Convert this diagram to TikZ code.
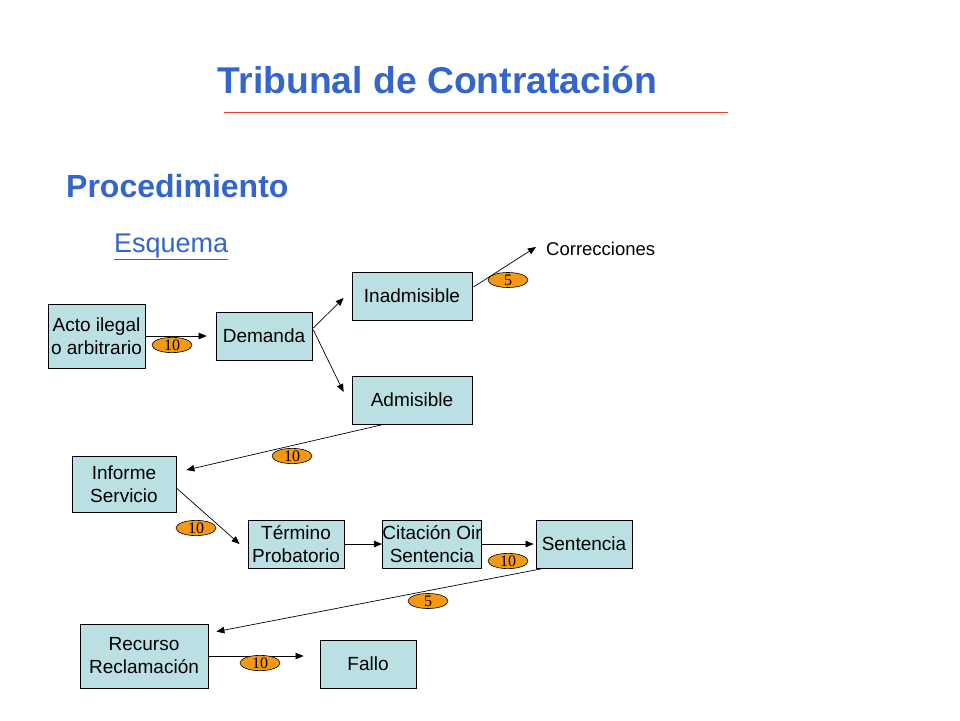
\documentclass[tikz,border=0pt]{standalone}
\usepackage{fontspec}
\setmainfont{Liberation Sans}
\newfontfamily\numfont{Liberation Serif}
\usetikzlibrary{arrows.meta,calc,shapes.geometric}
\definecolor{boxfill}{RGB}{187,224,227}
\definecolor{titleblue}{RGB}{51,102,204}
\definecolor{redline}{RGB}{232,67,43}
\definecolor{orangefill}{RGB}{245,153,20}
\tikzset{
  stepbox/.style={draw=black, line width=0.8pt, fill=boxfill, inner sep=0pt,
    align=center, font=\fontsize{19}{23}\selectfont},
  arr/.style={draw=black, line width=0.7pt, -{Triangle[length=8pt,width=6.5pt]}},
  tag/.style={ellipse, draw=black, line width=0.6pt, fill=orangefill, inner sep=0pt,
    minimum width=40pt, minimum height=15pt, font=\numfont\fontsize{16}{16}\selectfont},
}
\begin{document}
\begin{tikzpicture}[x=1pt,y=-1pt]
\useasboundingbox[fill=white] (0,0) rectangle (960,720);

% titles
\node[font=\bfseries\fontsize{37.3}{40}\selectfont, text=titleblue] (title) at (437.5,80) {Tribunal de Contratación};
\coordinate (rl1) at (224,112);
\coordinate (rl2) at (728,112);
\draw[redline, line width=0.9pt] (rl1) -- (rl2);
\node[font=\bfseries\fontsize{32}{36}\selectfont, text=titleblue, anchor=west, inner sep=0pt] (proc) at (66,186) {Procedimiento};
\node[font=\fontsize{27}{30}\selectfont, text=titleblue, anchor=west, inner sep=0pt] (esq) at (114,247) {\underline{Esquema}};

% boxes
\node[stepbox, minimum width=97pt, minimum height=64pt] (acto) at (96.5,336) {Acto ilegal\\o arbitrario};
\node[stepbox, minimum width=96pt, minimum height=48pt] (dem) at (264,336) {Demanda};
\node[stepbox, minimum width=120pt, minimum height=48pt] (inad) at (412,296) {Inadmisible};
\node[stepbox, minimum width=120pt, minimum height=48pt] (adm) at (412,400) {Admisible};
\node[font=\fontsize{18.5}{20}\selectfont, anchor=west, inner sep=0pt] (corr) at (546,249) {Correcciones};
\node[stepbox, minimum width=104pt, minimum height=56pt] (inf) at (124,484) {Informe\\Servicio};
\node[stepbox, minimum width=96pt, minimum height=48pt] (term) at (296,544) {Término\\Probatorio};
\node[stepbox, minimum width=96pt, minimum height=48pt] (cit) at (432,544) {Citación Oir\\Sentencia};
\node[stepbox, minimum width=96pt, minimum height=48pt] (sent) at (584,544) {Sentencia};
\node[stepbox, minimum width=128pt, minimum height=64pt] (rec) at (144,656) {Recurso\\Reclamación};
\node[stepbox, minimum width=96pt, minimum height=48pt] (fallo) at (368,664) {Fallo};

% connectors
\draw[arr] (acto.east) -- ($(dem.west)+(-9,0)$);
\draw[arr] ($(dem.east)+(1,-8)$) -- ($(inad.west)+(-8,2)$);
\draw[arr] ($(dem.east)+(1,-6)$) -- ($(adm.west)+(-8,-8)$);
\draw[arr] ($(inad.east)+(1,-9)$) -- ($(corr.west)+(-10,-2)$);
\draw[arr] ($(adm.south west)+(32,0)$) -- ($(inf.east)+(10,-14)$);
\draw[arr] ($(inf.east)+(0,4)$) -- ($(term.west)+(-8,0)$);
\draw[arr] (term.east) -- (cit.west);
\draw[arr] (cit.east) -- ($(sent.west)+(-2,0)$);
\draw[arr] ($(sent.south west)+(8,0)$) -- ($(rec.north east)+(8,8)$);
\draw[arr] (rec.east) -- ($(fallo.west)+(-16,-8)$);

% time tags
\node[tag] (t1) at (172,345) {10};
\node[tag] (t2) at (508,280) {5};
\node[tag] (t3) at (292,456) {10};
\node[tag] (t4) at (196,528) {10};
\node[tag] (t5) at (508,561) {10};
\node[tag] (t6) at (428,601) {5};
\node[tag] (t7) at (260,663) {10};
\end{tikzpicture}
\end{document}
